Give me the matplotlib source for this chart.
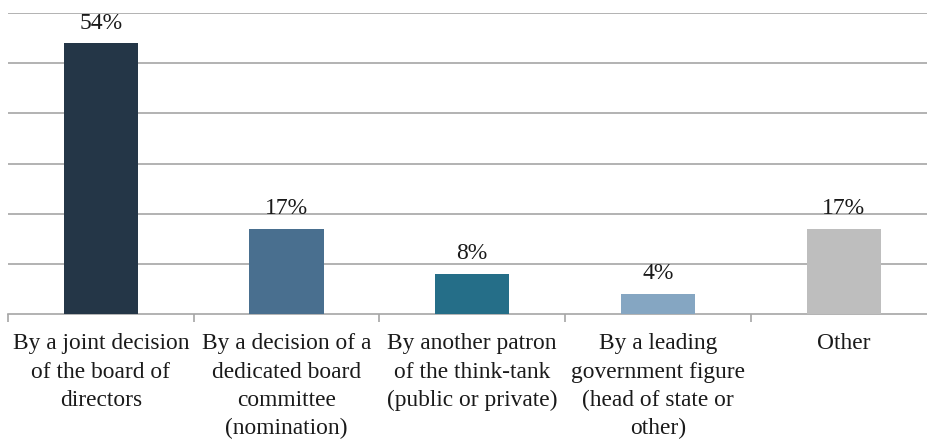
import matplotlib
matplotlib.use("Agg")
import matplotlib.pyplot as plt
import numpy as np

categories = [
    "By a joint decision\nof the board of\ndirectors",
    "By a decision of a\ndedicated board\ncommittee\n(nomination)",
    "By another patron\nof the think-tank\n(public or private)",
    "By a leading\ngovernment figure\n(head of state or\nother)",
    "Other",
]
values = [54, 17, 8, 4, 17]
colors = ["#243647", "#496F8F", "#256E88", "#85A6C2", "#BEBEBE"]

plt.rcParams["font.family"] = ["Liberation Serif", "DejaVu Serif"]

fig = plt.figure(figsize=(9.28, 4.41), dpi=100)
ax = fig.add_axes([8 / 928, 1 - 314 / 441, 928.5 / 928, 301 / 441])

x = np.arange(len(categories))
bars = ax.bar(x, values, width=0.40, color=colors, zorder=3)

for xi, v in zip(x, values):
    ax.text(xi, v + 1.9, f"{v}%", ha="center", va="bottom", fontsize=17, color="#1a1a1a")

ax.set_xlim(-0.5, len(categories) - 0.5)
ax.set_ylim(0, 60)
ax.set_yticks(np.arange(10, 61, 10))
ax.yaxis.grid(True, color="#a6a6a6", linewidth=1.2, zorder=0)
ax.tick_params(axis="y", left=False, labelleft=False)

# category labels at centers, tick marks at category boundaries
ax.set_xticks(x)
ax.set_xticklabels(categories, fontsize=16.8, color="#1a1a1a", linespacing=1.45, va="top")
ax.tick_params(axis="x", which="major", length=0, pad=14)
ax.set_xticks(np.arange(-0.5, len(categories) + 0.5, 1), minor=True)
ax.tick_params(axis="x", which="minor", length=6, width=1.2, color="#a6a6a6")

for side in ("left", "right", "top"):
    ax.spines[side].set_visible(False)
ax.spines["bottom"].set_color("#a6a6a6")
ax.spines["bottom"].set_linewidth(1.2)

fig.savefig("out.png", dpi=100)
